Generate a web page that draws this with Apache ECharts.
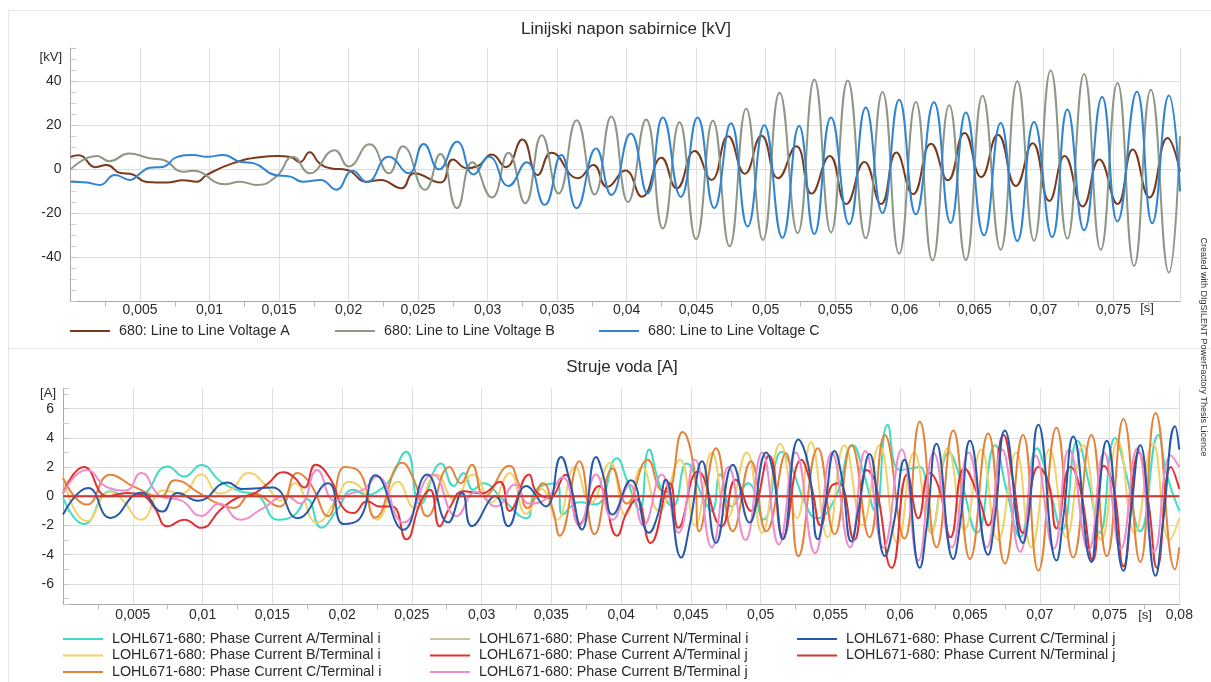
<!DOCTYPE html>
<html><head><meta charset="utf-8">
<script src="https://cdn.jsdelivr.net/npm/echarts@6/dist/echarts.min.js"></script>
<style>html,body{margin:0;padding:0;background:#fff}#c{width:1211px;height:682px}</style>
</head><body><div id="c"></div>
<script>
// time in ms, values in kV / A
const voltA = [[0,5.7],[0.6,6.4],[1.8,1],[2.6,2],[3.6,-1.7],[4.3,-2],[5.5,-5.7],[6.9,-6],[8.1,-5],[9.1,-5.6],[9.8,-2.5],[11.7,2.8],[13.6,5.5],[14.9,6],[15.8,5.6],[16.5,3.3],[17.2,7.8],[17.9,2.8],[18.7,0.5],[19.9,-0.3],[21.3,-5.6],[22.3,-4.8],[23.8,-8.6],[24.7,-1.8],[26.6,-6],[27.5,4.5],[28.5,0.5],[29.3,1.5],[30.3,6.7],[31.3,1],[32.5,13.5],[33.6,-2.6],[34.6,7.5],[36.5,-4],[37.6,2],[38.6,-8],[39.9,-0.5],[41.1,-12.4],[42.5,5.2],[43.6,-8.6],[44.9,8.3],[46.1,-4.8],[47.3,15],[48.5,-2],[49.7,15.2],[50.9,-4],[52.2,10.5],[53.3,-11],[54.6,6.1],[55.8,-15.7],[57.1,3.3],[58.3,-15.7],[59.4,7.6],[60.6,-11.2],[61.9,11.6],[63.1,-5],[64.3,16.5],[65.5,-3.5],[66.7,15.7],[68.0,-7.5],[69.2,11.8],[70.4,-14.3],[71.5,6],[72.8,-16.8],[74.0,4.5],[75.3,-15.7],[76.4,9],[77.6,-12.8],[78.9,14.2],[79.8,-1]];
const voltB = [[0,0],[1.9,6],[2.8,3.7],[4.2,7.2],[5.7,5],[6.7,4.2],[8.1,-1.1],[8.8,-0.6],[11.1,-6.8],[12.2,-5.6],[13.4,-7.1],[14.8,-3.3],[16.0,5.7],[17.2,-1.8],[19.0,8.7],[20.0,1.3],[21.5,11.4],[22.9,-1.8],[23.9,10.5],[25.5,-9.3],[26.6,6.9],[27.8,-17.6],[28.9,3.2],[30.3,-12.8],[31.5,7.5],[32.7,-15.4],[33.9,15.5],[35.1,-11],[36.4,22.2],[37.7,-11.4],[38.9,24],[40.1,-14.8],[41.4,22.6],[42.6,-26.8],[43.8,21.3],[45.0,-31.7],[46.2,22],[47.4,-34.9],[48.6,27.5],[49.8,-32],[51.0,34.7],[52.3,-28.9],[53.5,40.7],[54.7,-28.6],[55.9,40.3],[57.2,-31.2],[58.4,35],[59.6,-38.3],[60.8,30.5],[62.0,-41.3],[63.2,29],[64.4,-41.1],[65.6,33.3],[66.9,-36.4],[68.1,39.9],[69.3,-32.4],[70.5,44.8],[71.7,-31.4],[72.9,43.2],[74.1,-36.5],[75.3,39.1],[76.5,-43.8],[77.7,36.1],[79.0,-46.8],[79.8,15]];
const voltC = [[0,-5.6],[1.2,-6],[2.1,-7.1],[3.2,-2.6],[4.3,-4.8],[5.0,-1.8],[5.7,0.7],[6.7,1.2],[7.6,5.4],[8.8,6.5],[9.8,5.7],[11.0,6.5],[12.2,3.4],[13.2,2.7],[14.7,-2.6],[15.8,-3.3],[16.7,-5.6],[18.0,-4.8],[19.1,-9.2],[20.3,-0.6],[21.3,-5.8],[22.9,5.7],[24.3,-1.8],[25.4,11.5],[26.5,0],[27.8,12.5],[29.0,-2.3],[30.1,5.7],[31.5,-7.5],[32.8,3.2],[34.1,-16.1],[35.3,6.5],[36.4,-17.6],[37.8,9.5],[38.9,-11.6],[40.3,16.2],[41.5,-10.9],[42.6,23.5],[43.9,-12.5],[45.1,23.5],[46.3,-17.6],[47.5,20.9],[48.7,-25.9],[49.9,20],[51.2,-31],[52.4,19.6],[53.5,-29.3],[54.7,23.5],[56.0,-24.9],[57.2,28],[58.4,-19.8],[59.6,31.5],[60.8,-20.4],[62.1,30.4],[63.3,-24.3],[64.4,25.8],[65.7,-29.9],[66.9,21],[68.1,-32.5],[69.3,21.5],[70.6,-30.7],[71.7,27.1],[72.9,-27.6],[74.2,32.8],[75.3,-23.6],[76.7,35.2],[77.8,-24.4],[79.0,33.5],[79.8,-10]];

const curAi = [[0,-0.1],[1.5,-1.9],[3.4,0.35],[4.6,0],[5.6,0.1],[7.5,2.05],[8.7,1.35],[9.9,2.15],[11.3,1.0],[12.7,0.35],[13.9,0.1],[15.4,-1.6],[16.5,-1.35],[17.5,-0.2],[18.5,-2.15],[19.6,-1.0],[20.8,0.45],[21.8,0.1],[22.7,0.45],[23.4,1.1],[24.6,3.05],[25.6,-0.55],[27.1,2.25],[28.0,0.7],[28.7,1.6],[29.4,0.45],[30.1,0.9],[31.5,-0.2],[33.2,-1.5],[33.9,0.45],[35.4,0.9],[35.8,-1.25],[37.0,-0.4],[38.2,-0.55],[39.7,2.6],[40.4,1.15],[41.3,-0.9],[42.0,3.2],[42.8,0.7],[43.7,-0.7],[44.7,2.25],[45.9,-0.2],[46.5,-1.0],[47.1,1.5],[47.9,-0.7],[49.1,0.9],[50.2,-1.6],[51.5,3.05],[52.1,2.25],[53.2,-0.5],[54.0,-1.5],[55.3,-0.2],[56.6,3.5],[57.4,1.5],[58.2,-1.0],[59.1,4.9],[60.0,1.8],[61.4,2.0],[62.2,-2.5],[63.5,3.0],[64.4,0.9],[65.5,-2.5],[66.8,3.5],[67.6,0.5],[68.6,-2.8],[69.8,3.3],[70.6,1.0],[71.6,-2.3],[72.7,3.8],[73.5,1.0],[74.3,-2.5],[75.4,4.0],[76.2,1.5],[77.2,-2.4],[78.5,4.2],[79.1,1.5],[80,-1.0]];
const curBi = [[0,1.3],[1.7,-1.7],[3.4,0.3],[4.2,-0.2],[5.6,-1.6],[7.2,0.4],[8.5,0.2],[9.9,1.5],[11.2,0.2],[12.1,0.5],[13.3,1.6],[14.5,0.8],[15.6,-0.3],[16.6,0.9],[18.2,-1.8],[19.6,-0.2],[20.5,1.0],[21.4,0.5],[22.5,-1.6],[24.0,1.0],[25.2,-0.8],[26.8,1.5],[28.0,-0.2],[29.4,1.5],[30.7,-0.4],[32.0,1.6],[33.2,-1.2],[34.3,0.5],[35.4,-1.6],[36.7,2.0],[37.8,-0.5],[39.2,2.3],[40.3,-1.3],[41.5,2.0],[42.7,-1.0],[44.2,2.5],[45.3,-2.0],[46.5,3.0],[47.6,-1.5],[49.0,3.0],[50.1,-2.5],[51.4,3.6],[52.6,-1.5],[53.6,3.7],[54.8,-2.8],[56.0,3.5],[57.3,-2.0],[58.5,3.5],[59.8,-3.2],[61.0,3.0],[62.2,-2.5],[63.4,3.3],[64.6,-2.3],[65.8,3.2],[67.0,-3.0],[68.3,3.0],[69.4,-3.5],[70.7,3.2],[71.9,-2.8],[73.1,3.5],[74.4,-3.0],[75.6,3.8],[76.8,-2.5],[78.1,3.6],[79.3,-3.0],[80,-1.5]];
const curCi = [[0,1.25],[1.7,-0.57],[3.4,1.48],[5.0,0.7],[7.0,0],[8.0,1.1],[9.8,0.2],[11.0,-0.45],[12.2,-0.8],[13.6,0.2],[15.5,-0.7],[16.8,1.6],[17.7,0.9],[19.0,-1.36],[20.2,2.0],[21.3,1.6],[22.4,-1.45],[24.3,2.3],[25.2,1.0],[26.1,-1.36],[27.7,2.0],[28.5,0.9],[29.3,2.16],[30.2,0],[32.0,2.1],[32.6,1.0],[33.3,-0.8],[34.4,0.9],[35.1,-0.9],[35.6,-2.7],[37.0,2.4],[38.1,-2.6],[39.4,1.9],[40.4,-0.5],[41.9,2.5],[42.8,0.45],[43.3,0.3],[44.4,4.4],[45.2,2.05],[45.6,-2.4],[46.8,3.3],[48.0,-2.4],[49.3,2.4],[50.4,-2.4],[51.8,2.95],[52.7,-4.1],[54.1,3.3],[55.3,-2.6],[56.5,3.5],[57.8,-2.8],[58.9,4.2],[60.3,-2.9],[61.4,5.1],[62.6,-3.5],[63.8,4.5],[65.0,-4.3],[66.3,4.3],[67.5,-4.6],[68.8,4.2],[69.9,-5.1],[71.2,4.7],[72.4,-4.2],[73.7,4.2],[74.8,-4.1],[76.0,5.3],[77.2,-4.5],[78.3,5.7],[79.7,-5.0],[80,-3.5]];
const curNi = [[0,0],[80,0]];
const curAj = [[0,0.2],[1.5,2.0],[3.2,0],[4.6,0.23],[5.6,0.1],[6.5,-0.7],[7.5,-2.05],[8.7,-1.6],[9.9,-2.16],[11.3,-0.9],[12.5,-0.1],[13.5,0.1],[14.6,0.8],[15.8,1.64],[16.5,1.36],[17.3,0.6],[18.1,2.16],[19.2,1.14],[20.0,-0.7],[20.8,-1.14],[21.8,-0.34],[22.7,-0.7],[23.6,-0.7],[24.6,-2.95],[25.6,-0.45],[26.3,0.45],[27.0,-2.05],[27.7,-0.8],[28.7,0.34],[30.0,0.2],[31.3,1.0],[32.0,-1.0],[33.4,1.5],[33.9,0.34],[34.8,-0.1],[36.0,1.48],[37.0,-1.9],[38.4,0.7],[39.7,-2.7],[40.4,-1.1],[41.1,-0.2],[42.1,-3.2],[43.5,0.9],[44.1,-2.16],[45.5,1.7],[47.2,-2.05],[48.2,1.14],[49.3,-1.0],[50.6,2.8],[51.6,-2.8],[52.9,2.5],[53.6,0.8],[54.3,-2.0],[55.0,0.6],[55.6,0.9],[56.7,-3.0],[57.6,1.8],[58.2,1.0],[59.4,-4.9],[60.5,1.5],[61.3,-1.5],[62.1,1.6],[62.8,0.5],[63.6,-2.8],[64.6,1.9],[65.6,0.0],[66.3,-2.0],[67.4,4.2],[68.1,1.0],[68.8,-2.5],[69.9,2.0],[70.6,1.0],[71.2,-2.2],[72.2,2.0],[72.9,0.5],[73.8,-4.4],[74.6,2.1],[75.3,0.6],[76.0,-4.8],[77.1,3.0],[77.8,-0.5],[78.4,-4.9],[79.4,2.0],[80,0.5]];
const curBj = [[0,0.2],[1.7,1.8],[3.2,0.6],[4.5,0.4],[5.6,1.6],[7.0,0.0],[8.5,-0.3],[9.9,-1.35],[11.2,-0.5],[12.7,-1.6],[14.2,-0.9],[16.0,0.0],[17.0,-0.5],[18.2,1.8],[19.5,-0.3],[20.6,0.2],[21.6,0.5],[22.5,1.35],[24.4,-1.8],[26.5,1.5],[28.2,-1.35],[29.6,0.3],[31.0,-0.7],[32.4,0.8],[33.4,-0.5],[34.6,-0.2],[35.8,1.3],[37.0,-2.0],[38.2,1.5],[39.4,-1.6],[40.6,0.8],[41.6,-2.0],[42.9,1.5],[44.1,-2.5],[45.3,2.5],[46.5,-3.5],[47.7,2.0],[48.9,-3.0],[50.1,3.0],[51.3,-3.3],[52.5,3.0],[53.9,-3.9],[55.1,3.0],[56.4,-3.5],[57.5,3.1],[58.8,-3.5],[60.1,3.2],[61.3,-4.4],[62.4,3.0],[63.7,-3.5],[64.9,3.0],[66.2,-3.5],[67.3,3.2],[68.6,-3.8],[69.7,2.8],[71.0,-3.6],[72.1,3.2],[73.5,-3.7],[74.6,3.0],[75.8,-3.6],[77.0,3.3],[78.2,-3.8],[79.4,2.8],[80,2.0]];
const curCj = [[0,-1.25],[1.8,0.57],[3.4,-1.48],[5.6,0.25],[7.1,-1.05],[8.2,0.23],[9.7,-0.3],[11.8,0.95],[12.8,0.5],[15.0,0.6],[16.8,-1.5],[19.0,0.9],[20.1,-1.9],[21.2,-1.6],[22.4,1.45],[24.4,-2.3],[26.1,1.5],[27.6,-1.8],[28.6,0.23],[29.3,-2.05],[31.0,0],[31.9,-2.05],[33.2,0.7],[34.6,-0.7],[35.7,2.7],[36.3,1.1],[37.2,-2.27],[38.2,2.7],[38.7,1.5],[39.4,-1.25],[40.7,1.1],[42.0,-2.5],[42.6,-1.36],[43.2,1.14],[44.3,-4.2],[44.9,-2.05],[45.8,2.4],[46.8,-3.2],[48.0,2.16],[49.2,-1.8],[50.4,3.0],[50.9,1.6],[51.6,-2.95],[52.7,3.9],[53.4,2.2],[54.1,-2.95],[54.6,-0.7],[55.3,3.1],[55.8,1.36],[56.5,-3.1],[57.0,-0.9],[57.8,2.9],[58.9,-4.1],[59.5,-2.05],[60.3,2.5],[61.4,-4.9],[61.9,-2.05],[62.6,3.6],[63.8,-4.3],[64.3,-1.8],[65.0,3.8],[66.3,-4.0],[66.8,-1.36],[67.5,4.5],[68.8,-3.2],[69.2,-1.36],[69.9,4.9],[71.2,-4.4],[71.7,-1.36],[72.4,4.1],[73.7,-4.5],[74.1,-1.36],[74.8,3.8],[76.0,-5.1],[76.5,-1.36],[77.2,3.5],[78.3,-5.45],[78.8,-2.05],[79.7,4.8],[80,3.2]];
const curNj = [[0,0],[80,0]];

const topNames = ['680: Line to Line Voltage A','680: Line to Line Voltage B','680: Line to Line Voltage C'];
const botNames = ['LOHL671-680: Phase Current A/Terminal i','LOHL671-680: Phase Current B/Terminal i','LOHL671-680: Phase Current C/Terminal i','LOHL671-680: Phase Current N/Terminal i','LOHL671-680: Phase Current A/Terminal j','LOHL671-680: Phase Current B/Terminal j','LOHL671-680: Phase Current C/Terminal j','LOHL671-680: Phase Current N/Terminal j'];
const topColors = ['#7a3a1e','#8d9785','#2f84d4'];
const botColors = ['#3fdcc2','#f1d26a','#e4843a','#c9c7a3','#e23030','#ee8dcc','#2759aa','#c63b35'];

const FONT = 'Liberation Sans, Arial, sans-serif';
const chart = echarts.init(document.getElementById('c'), null, {renderer:'canvas'});
const fmtX = v => (v/1000).toFixed(3).replace(/0+$/,'').replace('.',',');
function xAxisCfg(gi, max, showMax, margin){
  return {type:'value', gridIndex:gi, min:0, max:max, interval:5,
    axisLine:{show:true, onZero:false, lineStyle:{color:'#a8a8a8', width:1}},
    axisTick:{show:false},
    minorTick:{show:true, splitNumber:2, length:5, lineStyle:{color:'#b8b8b8'}},
    splitLine:{show:true, lineStyle:{color:'#e0e0e0', width:1}, showMinLine:false},
    axisLabel:{formatter:fmtX, showMinLabel:false, showMaxLabel:showMax, color:'#2a2a2a', fontFamily:FONT, fontSize:14, margin:margin}
  };
}
function yAxisCfg(gi, min, max, interval, split, minorSplit){
  const c = {type:'value', gridIndex:gi, min:min, max:max,
    axisLine:{show:true, lineStyle:{color:'#a8a8a8', width:1}},
    axisTick:{show:true, inside:true, length:6, lineStyle:{color:'#c8c8c8'}},
    minorTick:{show:true, splitNumber:minorSplit, length:6, lineStyle:{color:'#d0d0d0'}},
    splitLine:{show:true, lineStyle:{color:'#dedede', width:1}, showMinLine:false, showMaxLine:false},
    axisLabel:{showMinLabel:false, showMaxLabel:false, color:'#2a2a2a', fontFamily:FONT, fontSize:14, margin:9}
  };
  if (interval) c.interval = interval; else c.splitNumber = split;
  return c;
}
function lineSeries(name, data, color, xi, yi, z){
  return {name:name, type:'line', xAxisIndex:xi, yAxisIndex:yi, data:data, smooth:0.5, showSymbol:false, symbol:'none',
    lineStyle:{color:color, width:2}, itemStyle:{color:color}, z:z||2, animation:false, silent:true};
}
const topData = [voltA, voltB, voltC];
const botData = [curAi, curBi, curCi, curNi, curAj, curBj, curCj, curNj];
const series = [];
topData.forEach((d,i)=>series.push(lineSeries(topNames[i], d, topColors[i], 0, 0, 2+i)));
botData.forEach((d,i)=>series.push(lineSeries(botNames[i], d, botColors[i], 1, 1, 2+i)));

function leg(name, left, top){
  return {data:[name], left:left, top:top, padding:0, orient:'horizontal', icon:'rect', itemWidth:40, itemHeight:2, selectedMode:false,
    textStyle:{color:'#2a2a2a', fontFamily:FONT, fontSize:14.3, padding:[0,0,0,4]}};
}
const legends = [
  leg(topNames[0], 70, 324), leg(topNames[1], 335, 324), leg(topNames[2], 599, 324),
  leg(botNames[0], 63, 632), leg(botNames[1], 63, 648.5), leg(botNames[2], 63, 665),
  leg(botNames[3], 430, 632), leg(botNames[4], 430, 648.5), leg(botNames[5], 430, 665),
  leg(botNames[6], 797, 632), leg(botNames[7], 797, 648.5)
];

const option = {
  backgroundColor:'#ffffff',
  animation:false,
  grid:[{left:70.5, top:48, width:1109.5, height:253.7, containLabel:false},
        {left:63, top:388.3, width:1116.3, height:216, containLabel:false}],
  xAxis:[xAxisCfg(0, 79.8, false, 1), xAxisCfg(1, 80, true, 4)],
  yAxis:[yAxisCfg(0, -60, 55, 20, null, 4), yAxisCfg(1, -7.4, 7.4, null, 7, 2)],
  legend: legends,
  series: series,
  graphic:[
    {type:'line', shape:{x1:8,y1:10.5,x2:1211,y2:10.5}, style:{stroke:'#e6e6e6', lineWidth:1}, silent:true},
    {type:'line', shape:{x1:8.5,y1:10,x2:8.5,y2:682}, style:{stroke:'#e6e6e6', lineWidth:1}, silent:true},
    {type:'line', shape:{x1:8,y1:348.5,x2:1211,y2:348.5}, style:{stroke:'#e6e6e6', lineWidth:1}, silent:true},
    {type:'text', x:626, y:29, style:{text:'Linijski napon sabirnice [kV]', font:'17px '+FONT, fill:'#2a2a2a', align:'center', verticalAlign:'middle'}},
    {type:'text', x:622, y:367, style:{text:'Struje voda [A]', font:'17px '+FONT, fill:'#2a2a2a', align:'center', verticalAlign:'middle'}},
    {type:'text', x:62, y:57, style:{text:'[kV]', font:'13px '+FONT, fill:'#2a2a2a', align:'right', verticalAlign:'middle'}},
    {type:'text', x:56, y:393, style:{text:'[A]', font:'13px '+FONT, fill:'#2a2a2a', align:'right', verticalAlign:'middle'}},
    {type:'text', x:1147, y:308, style:{text:'[s]', font:'13px '+FONT, fill:'#2a2a2a', align:'center', verticalAlign:'middle'}},
    {type:'text', x:1145, y:615, style:{text:'[s]', font:'13px '+FONT, fill:'#2a2a2a', align:'center', verticalAlign:'middle'}},
    {type:'text', x:1203, y:347, rotation:-Math.PI/2, style:{text:'Created with DIgSILENT PowerFactory Thesis Licence', font:'9px '+FONT, fill:'#333', align:'center', verticalAlign:'middle'}}
  ]
};
chart.setOption(option);
</script></body></html>
